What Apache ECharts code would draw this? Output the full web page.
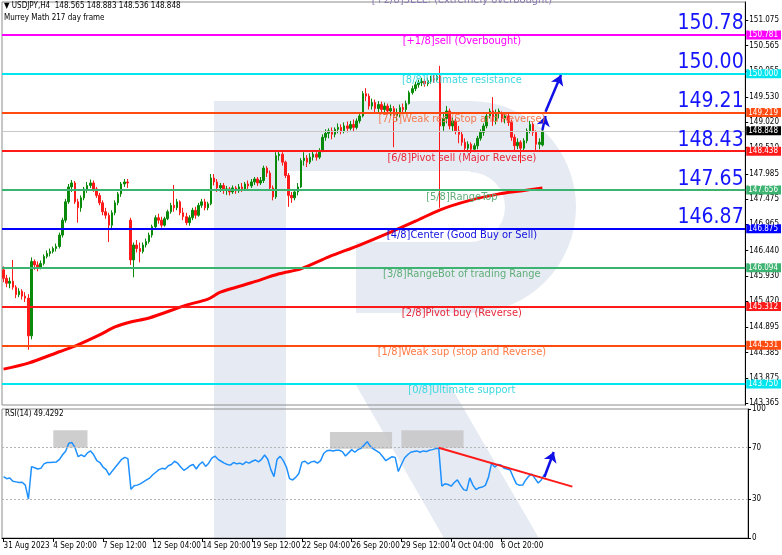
<!DOCTYPE html>
<html><head><meta charset="utf-8">
<script src="https://cdn.jsdelivr.net/npm/echarts@6/dist/echarts.min.js"></script>
<style>html,body{margin:0;padding:0;background:#fff}#c{width:782px;height:555px}</style>
</head><body><div id="c"></div>
<script>
// ---------- DATA ----------
// candles: [open, close, low, high]  (USDJPY H4, from 31 Aug 2023 04:00)
const candles = [
[146.05,145.88,145.80,146.12],[145.88,145.78,145.70,145.95],[145.78,145.82,145.68,145.90],[145.82,145.70,145.65,146.25],
[145.70,145.55,145.48,145.74],[145.55,145.62,145.50,145.68],[145.62,145.52,145.45,145.66],[145.52,145.48,145.40,145.60],
[145.48,144.72,144.44,145.56],[144.72,146.22,144.65,146.30],[146.22,146.15,146.05,146.26],
[146.15,146.10,146.02,146.22],[146.10,146.18,146.06,146.24],[146.18,146.32,146.14,146.36],[146.32,146.38,146.28,146.44],
[146.38,146.42,146.32,146.48],[146.42,146.48,146.38,146.52],
[146.48,146.52,146.42,146.58],[146.52,146.75,146.48,146.80],[146.75,147.05,146.70,147.10],[147.05,147.42,147.00,147.48],
[147.42,147.72,147.38,147.78],[147.72,147.80,147.62,147.86],
[147.80,147.42,147.38,147.84],[147.42,147.30,147.00,147.48],[147.30,147.50,147.22,147.55],[147.50,147.68,147.45,147.72],
[147.68,147.75,147.60,147.82],[147.75,147.80,147.70,147.87],
[147.80,147.68,147.62,147.85],[147.68,147.55,147.50,147.72],[147.55,147.40,147.35,147.60],[147.40,147.22,147.15,147.45],
[147.22,147.15,147.08,147.30],[147.15,146.95,146.61,147.20],
[146.95,147.20,146.85,147.25],[147.20,147.40,147.15,147.45],[147.40,147.58,147.35,147.62],[147.58,147.78,147.52,147.82],
[147.78,147.82,147.72,147.88],[147.82,147.80,147.70,147.88],
[147.05,146.25,146.15,147.10],[146.25,146.55,145.90,146.60],[146.55,146.48,146.40,146.65],[146.48,146.42,146.20,146.60],
[146.42,146.55,146.38,146.60],[146.55,146.62,146.50,146.68],
[146.62,146.75,146.58,146.80],[146.75,146.92,146.70,146.96],[146.92,147.10,146.88,147.15],[147.10,147.05,146.98,147.18],
[147.05,146.95,146.90,147.12],[146.95,147.08,146.92,147.12],
[147.08,147.22,147.05,147.26],[147.22,147.35,147.18,147.40],[147.35,147.30,147.22,147.76],[147.30,147.42,147.25,147.48],
[147.42,147.20,147.15,147.45],[147.20,147.12,147.05,147.30],
[147.12,147.00,146.95,147.20],[147.00,147.10,146.94,147.15],[147.10,147.25,147.05,147.30],[147.25,147.15,147.08,147.32],
[147.15,147.35,147.12,147.40],[147.35,147.42,147.30,147.48],
[147.42,147.30,147.25,147.48],[147.30,147.38,147.25,147.42],[147.38,147.90,147.35,147.98],[147.90,147.82,147.75,147.98],
[147.82,147.70,147.62,147.88],[147.70,147.75,147.62,147.80],
[147.75,147.65,147.58,147.80],[147.65,147.68,147.56,147.74],[147.68,147.62,147.55,147.72],[147.62,147.70,147.58,147.75],
[147.70,147.64,147.58,147.74],[147.64,147.72,147.60,147.78],
[147.72,147.68,147.62,147.80],[147.68,147.78,147.64,147.82],[147.78,147.74,147.68,147.85],[147.74,147.82,147.70,147.88],
[147.82,147.88,147.76,147.92],[147.88,147.80,147.74,147.92],
[147.80,147.85,147.76,147.92],[147.85,148.10,147.80,148.15],[148.10,148.00,147.92,148.14],[148.00,147.70,147.65,148.05],
[147.70,147.52,147.45,147.75],[147.52,148.35,147.48,148.42],
[148.35,148.38,148.25,148.45],[148.38,148.22,148.15,148.42],[148.22,147.95,147.90,148.25],[147.95,147.55,147.32,148.00],
[147.55,147.50,147.40,147.62],[147.50,147.62,147.45,147.66],
[147.62,147.72,147.55,147.80],[147.72,148.25,147.70,148.30],[148.25,148.30,148.15,148.42],[148.30,148.22,148.12,148.36],
[148.22,148.32,148.18,148.40],[148.32,148.38,148.25,148.45],
[148.38,148.32,148.25,148.42],[148.32,148.45,148.28,148.50],[148.45,148.72,148.42,148.78],[148.72,148.80,148.65,148.88],
[148.80,148.85,148.70,148.90],[148.85,148.78,148.68,148.92],
[148.78,148.88,148.72,148.92],[148.88,148.92,148.80,149.00],[148.92,148.85,148.78,148.98],[148.85,148.95,148.80,149.02],
[148.95,148.90,148.82,149.04],[148.90,148.98,148.86,149.05],
[148.98,148.92,148.84,149.08],[148.92,149.05,148.88,149.10],[149.05,149.15,149.00,149.22],[149.15,149.60,149.12,149.65],
[149.60,149.55,149.45,149.71],[149.55,149.35,149.28,149.60],
[149.35,149.42,149.28,149.50],[149.42,149.30,149.22,149.48],[149.30,149.38,149.20,149.45],[149.38,149.28,149.20,149.44],
[149.28,149.35,149.22,149.42],[149.35,149.25,149.18,149.40],
[149.25,149.30,149.15,149.38],[149.30,149.15,148.52,149.35],[149.15,149.20,149.05,149.30],[149.20,149.32,149.12,149.38],
[149.32,149.28,149.20,149.40],[149.28,149.40,149.22,149.46],
[149.40,149.62,149.38,149.66],[149.62,149.70,149.58,149.76],[149.70,149.78,149.65,149.84],[149.78,149.82,149.72,149.88],
[149.82,149.85,149.75,149.92],[149.85,149.80,149.74,149.90],
[149.80,149.86,149.75,149.92],[149.86,149.90,149.80,149.96],[149.90,149.88,149.82,149.98],[149.88,149.95,149.84,150.00],
[149.95,148.95,147.30,150.16],[148.95,149.10,148.85,149.20],
[149.10,149.25,149.00,149.35],[149.25,148.95,148.88,149.30],[148.95,149.05,148.85,149.12],[149.05,148.85,148.78,149.10],
[148.85,148.78,148.60,148.95],[148.78,148.62,148.55,148.85],
[148.62,148.50,148.45,148.70],[148.50,148.58,148.42,148.64],[148.58,148.48,148.40,148.62],[148.48,148.55,148.42,148.60],
[148.55,148.70,148.48,148.75],[148.70,148.82,148.65,148.88],
[148.82,148.95,148.75,149.00],[148.95,149.15,148.90,149.20],[149.15,149.25,149.10,149.30],[149.25,149.05,148.95,149.53],
[149.05,149.20,148.98,149.28],[149.20,149.25,149.10,149.30],
[149.20,149.10,149.02,149.24],[149.10,149.15,149.00,149.22],[149.15,149.02,148.95,149.20],[149.02,148.72,148.65,149.08],
[148.72,148.55,148.46,148.78],[148.55,148.62,148.48,148.70],
[148.62,148.50,148.20,148.66],[148.50,148.65,148.45,148.70],[148.65,148.85,148.60,148.90],[148.85,148.98,148.80,149.05],
[148.98,148.82,148.75,149.02],[148.82,148.58,148.45,148.86],
[148.58,148.62,148.48,148.70],[148.565,148.848,148.536,148.883]
];
// 217 moving average, read at points along the line: [bar index, value]
const ma217 = [[0,144.05],[8,144.17],[18,144.40],[24,144.54],[31,144.74],[36,144.90],[41,145.00],[47,145.08],
[59,145.34],[66,145.46],[70,145.60],[80,145.79],[89,145.97],[96,146.07],[105,146.31],[115,146.55],[125,146.81],
[133,147.03],[141,147.26],[150,147.44],[160,147.58],[167,147.64],[174,147.70]];
// RSI(14)
const rsi = [47.5,46,46.5,44,43.5,43,43.2,41,30.2,55.3,
54.5,53.5,54,57.5,58.5,58.5,58.8,59,61,64.5,
67.5,73.5,74,70,63,64.5,63,66,67.5,64.5,
60,58.5,55,53,48.8,52,55,58,61,62.5,
61.5,37.7,40.5,41,42,43.5,45,46.5,49,51,
53,54,53.5,56,57,59.5,58,55,52.5,54,
56,57,53.5,57,59,55.5,58,62,63.5,61,
59.5,58,57,56.5,58.5,57.5,58,57,59,58,
59.5,60.5,59,61,64.3,61,53,47.6,61,63.3,
60,55,46,45,47,50,58.8,59.5,57.5,59,
59.5,58,60,65.5,67.6,68,67.5,68,68,67,
63.6,66,68.5,66.5,68.5,69.5,72,74.7,71,69,
67.6,66,63,59.9,61.5,63,62.5,51.5,57,62,
64.5,66.5,67,67.5,66.5,67.5,67,68,68.5,69.3,
69.5,40.3,42,41.5,40.2,43,45,41,37.5,36.7,
46.6,41,37.5,39,39.5,40.8,47,58,55,57,
56.6,54,53.5,52.7,47,42,40.8,41,45,48,
49.5,46,42.6,45,49.43];
// Murrey Math levels
const murreyLevels = [151.562,150.781,150.000,149.219,148.438,147.656,146.875,146.094,145.312,144.531,143.750];
const murreyTexts = ['[+2/8]SELL! (extremely overbought)','[+1/8]sell (Overbought)','[8/8]Ultimate resistance',
'[7/8]Weak res (Stop and Reverse)','[6/8]Pivot sell (Major Reverse)','[5/8]RangeTop','[4/8]Center (Good Buy or Sell)',
'[3/8]RangeBot of trading Range','[2/8]Pivot buy (Reverse)','[1/8]Weak sup (stop and Reverse)','[0/8]Ultimate support'];
const bigLevelTexts = ['150.78','150.00','149.21','148.43','147.65','146.87'];
const bigLevelValues = [150.781,150.000,149.219,148.438,147.656,146.875];
const lastPrice = 148.848;
const headerText = '\u25BC USDJPY,H4  148.565 148.883 148.536 148.848';
const rsiText = 'RSI(14) 49.4292';
const xTickLabels = ['31 Aug 2023','4 Sep 20:00','7 Sep 12:00','12 Sep 04:00','14 Sep 20:00','19 Sep 12:00',
'22 Sep 04:00','26 Sep 20:00','29 Sep 12:00','4 Oct 04:00','6 Oct 20:00'];
const priceTicks = [143.365,143.875,144.385,144.895,145.420,145.930,146.440,146.965,147.475,147.985,148.510,
149.020,149.530,150.055,150.565,151.075];
const rsiTicks = [0,30,70,100];
// annotations (data coordinates: [bar index, value])
const priceArrows = [[[173.6,148.867],[175,149.15]],[[175.2,149.236],[179.5,149.975]]];
const rsiTrend = [[139.5,70],[182.7,39.8]];
const rsiArrow = [[173.7,47.3],[176.9,66.7]];
const rsiBoxes = [[[15.5,83.5],[26.6,70]],[[104.8,82.2],[124.7,69.2]],[[127.9,83.5],[147.7,70]]];

// ---------- STYLE ----------
const murreyColors = ['#8a78b0','#ff00ff','#00e5ee','#ff4a10','#ff1a1a','#3cb371','#0000ff','#3cb371','#ff1a1a','#ff4a10','#00e5ee'];
const murreyTextColors = ['#8a78b0','#ff00ff','#40d8e0','#f47a50','#e8283a','#5fae78','#1010e0','#5fae78','#e8283a','#ff7a45','#40d8e0'];
const narrow = "'Liberation Sans Narrow','DejaVu Sans Condensed','Liberation Sans',sans-serif";

// categories (4H bars, weekdays only)
const categories = [];
(function(){
  let t = Date.UTC(2023,7,31,4);
  while (categories.length < 240) {
    const d = new Date(t), wd = d.getUTCDay();
    if (wd !== 0 && wd !== 6) categories.push(d.toISOString().slice(0,16));
    t += 4*3600*1000;
  }
})();
const showTick = (i) => i % 16 === 0 && i / 16 < xTickLabels.length;

const chart = echarts.init(document.getElementById('c'), null, {renderer:'canvas'});

const wm = '#e6ebf3';
const yMax = 151.446;
const option = {
  animation: false,
  textStyle: {fontFamily: narrow},
  graphic: [
    {type:'rect', z:-10, shape:{x:214,y:101,width:72,height:439}, style:{fill:wm}},
    {type:'rect', z:-10, shape:{x:286,y:101,width:184,height:70}, style:{fill:wm}},
    {type:'rect', z:-10, shape:{x:356,y:242,width:114,height:71}, style:{fill:wm}},
    {type:'sector', z:-10, shape:{cx:470,cy:207,r:106,r0:35,startAngle:-Math.PI/2,endAngle:Math.PI/2,clockwise:true}, style:{fill:wm}},
    {type:'polygon', z:-10, shape:{points:[[356,385],[450,385],[540,540],[445,540]]}, style:{fill:wm}},
    {type:'text', z:50, left:4, top:2, style:{text:headerText, fontSize:8, fill:'#000', fontFamily:narrow}},
    {type:'text', z:50, left:4, top:14, style:{text:'Murrey Math 217 day frame', fontSize:8, fill:'#000', fontFamily:narrow}},
    {type:'text', z:50, left:5, top:410, style:{text:rsiText, fontSize:8, fill:'#000', fontFamily:narrow}}
  ],
  grid: [
    {left:2, top:2, width:746, height:403, show:true, borderColor:'#8c8c8c', borderWidth:1, backgroundColor:'transparent'},
    {left:2, top:409, width:746, height:129, show:true, borderColor:'#8c8c8c', borderWidth:1, backgroundColor:'transparent'}
  ],
  xAxis: [
    {type:'category', gridIndex:0, data:categories, boundaryGap:true, axisLine:{show:false}, axisTick:{show:false}, axisLabel:{show:false}, splitLine:{show:false}},
    {type:'category', gridIndex:1, data:categories, boundaryGap:true,
     axisLine:{show:true, lineStyle:{color:'#000', width:1}},
     axisTick:{show:true, alignWithLabel:true, interval:(i)=>showTick(i), length:4, lineStyle:{color:'#000'}},
     axisLabel:{show:true, interval:(i)=>showTick(i), formatter:(v,i)=>xTickLabels[i/16], align:'left', margin:4, fontSize:8, color:'#000', fontFamily:narrow},
     splitLine:{show:false}}
  ],
  yAxis: [
    {type:'value', gridIndex:0, position:'right', min:143.327, max:yMax, scale:true,
     axisLine:{show:true, lineStyle:{color:'#000'}},
     axisTick:{show:true, length:3, customValues:priceTicks, lineStyle:{color:'#000'}},
     axisLabel:{show:true, customValues:priceTicks, formatter:(v)=>v.toFixed(3), fontSize:8, color:'#000', margin:4, fontFamily:narrow},
     splitLine:{show:false}},
    {type:'value', gridIndex:1, position:'right', min:0, max:100,
     axisLine:{show:true, lineStyle:{color:'#000'}},
     axisTick:{show:true, length:3, customValues:rsiTicks, lineStyle:{color:'#000'}},
     axisLabel:{show:true, customValues:rsiTicks, fontSize:8, color:'#000', margin:4, fontFamily:narrow},
     splitLine:{show:false}}
  ],
  series: [
    {
      type:'candlestick', name:'USDJPY', xAxisIndex:0, yAxisIndex:0, data:candles, barWidth:2, z:3,
      itemStyle:{color:'#0a8a0a', color0:'#ff1a1a', borderColor:'#0a8a0a', borderColor0:'#ff1a1a', borderWidth:1},
      markLine:{
        silent:true, symbol:['none','none'], animation:false, z:4,
        data: murreyLevels.slice(1).map((v,k)=>({
          yAxis:v,
          lineStyle:{color:murreyColors[k+1], width:2, type:'solid'},
          label:{show:true, position:'end', distance:1, formatter:v.toFixed(3), color:'#fff', fontSize:8,
                 backgroundColor:murreyColors[k+1], padding:[1,3,0,2], fontFamily:narrow}
        })).concat([{
          yAxis:lastPrice, lineStyle:{color:'#c8c8c8', width:1, type:'solid'},
          label:{show:true, position:'end', distance:1, formatter:lastPrice.toFixed(3), color:'#fff', fontSize:8,
                 backgroundColor:'#000', padding:[1,3,0,2], fontFamily:narrow}
        }])
      },
      markPoint:{
        silent:true, animation:false,
        data: murreyLevels.map((v,k)=>({
          coord:[148, Math.min(v, yMax)], symbol:'circle', symbolSize:0.1, itemStyle:{color:'rgba(0,0,0,0)'},
          label: v > yMax
            ? {show:true, position:'inside', offset:[0,-2], formatter:murreyTexts[k], color:murreyTextColors[k], fontSize:11, fontFamily:narrow}
            : {show:true, position:'bottom', distance:1, formatter:murreyTexts[k], color:murreyTextColors[k], fontSize:11, fontFamily:narrow}
        })).concat(bigLevelValues.map((v,k)=>({
          coord:[239, v], symbol:'circle', symbolSize:0.1, itemStyle:{color:'rgba(0,0,0,0)'},
          label:{show:true, position:'left', distance:0, offset:[0,-11], formatter:bigLevelTexts[k], color:'#1414ff', fontSize:21, fontFamily:narrow}
        })))
      }
    },
    {
      type:'line', name:'MA217', xAxisIndex:0, yAxisIndex:0, data:ma217, smooth:0.3, symbol:'none', z:2,
      lineStyle:{color:'#ff0000', width:3},
      markLine:{
        silent:true, animation:false, z:5,
        data: priceArrows.map(a=>[
          {coord:a[0], symbol:'none', lineStyle:{color:'#1010e6', width:2.5, type:'solid'}, label:{show:false}},
          {coord:a[1], symbol:'arrow', symbolSize:10}
        ])
      }
    },
    {
      type:'line', name:'boxes', xAxisIndex:1, yAxisIndex:1, data:[], z:1,
      markArea:{silent:true, itemStyle:{color:'#c6c6c6', opacity:0.85},
        data: rsiBoxes.map(b=>[{coord:b[0]},{coord:b[1]}])}
    },
    {
      type:'line', name:'RSI', xAxisIndex:1, yAxisIndex:1, data:rsi, symbol:'none', z:3,
      lineStyle:{color:'#1e90ff', width:1.5},
      markLine:{
        silent:true, animation:false, symbol:['none','none'],
        data:[
          {yAxis:70, lineStyle:{color:'#b4b4b4', type:[2,2], width:1}, label:{show:false}},
          {yAxis:30, lineStyle:{color:'#b4b4b4', type:[2,2], width:1}, label:{show:false}},
          [{coord:rsiTrend[0], lineStyle:{color:'#ff1a1a', width:2, type:'solid'}, label:{show:false}},{coord:rsiTrend[1]}],
          [{coord:rsiArrow[0], symbol:'none', lineStyle:{color:'#1010e6', width:2.5, type:'solid'}, label:{show:false}},{coord:rsiArrow[1], symbol:'arrow', symbolSize:10}]
        ]
      }
    }
  ]
};
chart.setOption(option);
</script>
</body></html>
